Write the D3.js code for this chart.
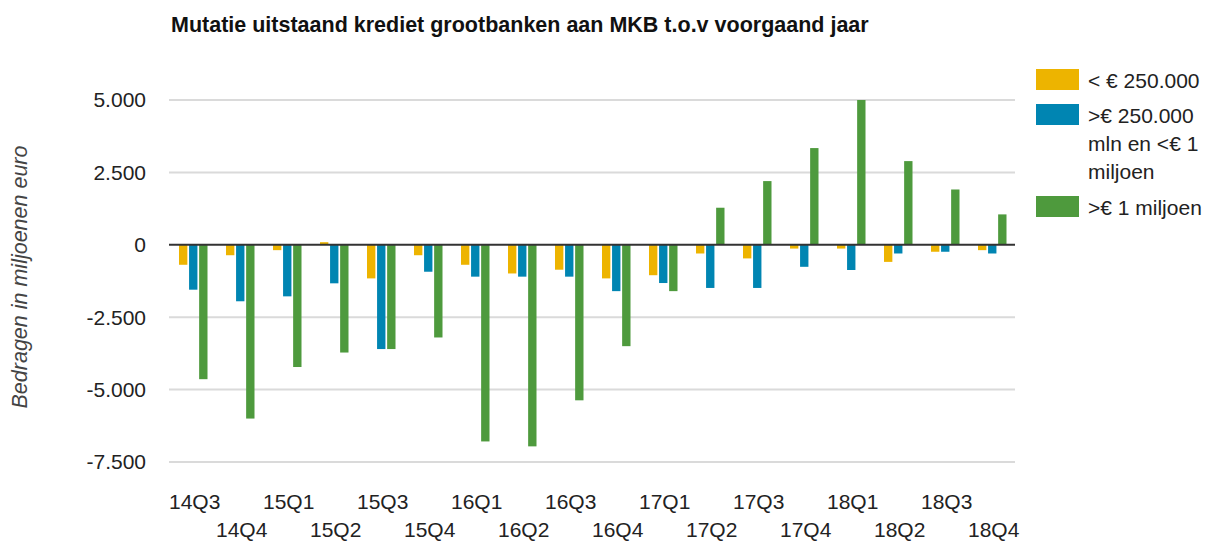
<!DOCTYPE html>
<html>
<head>
<meta charset="utf-8">
<script src="https://cdn.jsdelivr.net/npm/d3@7"></script>
<style>
  body { margin: 0; background: #fff; }
  svg { font-family: 'Liberation Sans', Arial, sans-serif; }
</style>
</head>
<body>
<div class="container"></div>
<script>
const quarters = ['14Q3', '14Q4', '15Q1', '15Q2', '15Q3', '15Q4', '16Q1', '16Q2', '16Q3',
  '16Q4', '17Q1', '17Q2', '17Q3', '17Q4', '18Q1', '18Q2', '18Q3', '18Q4'];

// mutatie in miljoenen euro
const klein = [-690, -360, -185, 90, -1160, -360, -690, -990, -860,
  -1160, -1050, -300, -470, -130, -130, -590, -240, -185];
const midden = [-1550, -1950, -1780, -1330, -3600, -930, -1100, -1100, -1100,
  -1600, -1320, -1490, -1490, -760, -870, -300, -240, -300];
const groot = [-4640, -6000, -4220, -3720, -3600, -3200, -6790, -6960, -5370,
  -3500, -1600, 1280, 2200, 3340, 5000, 2890, 1910, 1050];

const seriesKeys = ['klein', 'midden', 'groot'];
const seriesLabels = [['< € 250.000'], ['>€ 250.000', 'mln en <€ 1', 'miljoen'], ['>€ 1 miljoen']];
const colors = ['#edb400', '#0085b2', '#4e9a3d'];
const yTicks = [-7500, -5000, -2500, 0, 2500, 5000];

const W = 1209, H = 543;
const margin = { top: 100, right: 194, bottom: 81, left: 169 };

const data = quarters.map((q, i) => ({ q: q, klein: klein[i], midden: midden[i], groot: groot[i] }));

const svg = d3.select('.container')
  .append('svg')
  .attr('width', W)
  .attr('height', H);

let x = d3.scaleBand()
  .domain(quarters)
  .range([margin.left, W - margin.right])
  .paddingInner(0)
  .paddingOuter(0);

let xSub = d3.scaleBand()
  .domain(seriesKeys)
  .range([10, 38.5])
  .paddingInner(0.17)
  .paddingOuter(0);

let y = d3.scaleLinear()
  .domain([-7500, 5000])
  .range([H - margin.bottom, margin.top]);

const nl = d3.formatLocale({ decimal: ',', thousands: '.', grouping: [3], currency: ['€', ''], minus: '-' });
const fmt = nl.format(',d');

// gridlines
svg.append('g')
  .selectAll('line')
  .data(yTicks.filter(d => d !== 0))
  .enter()
  .append('line')
  .attr('x1', margin.left)
  .attr('x2', W - margin.right)
  .attr('y1', d => y(d))
  .attr('y2', d => y(d))
  .attr('stroke', '#dadada')
  .attr('stroke-width', 2);

// y labels
svg.append('g')
  .selectAll('text')
  .data(yTicks)
  .enter()
  .append('text')
  .attr('x', 146)
  .attr('y', d => y(d))
  .attr('dy', '0.35em')
  .attr('text-anchor', 'end')
  .style('font-size', '21px')
  .style('fill', '#222')
  .text(d => fmt(d));

// bars
let groups = svg.append('g')
  .selectAll('g')
  .data(data)
  .enter()
  .append('g')
  .attr('transform', d => 'translate(' + x(d.q) + ',0)');

groups.selectAll('rect')
  .data(d => seriesKeys.map((k, j) => ({ key: k, value: d[k], color: colors[j] })))
  .enter()
  .append('rect')
  .attr('x', d => xSub(d.key))
  .attr('width', xSub.bandwidth())
  .attr('y', d => y(Math.max(0, d.value)))
  .attr('height', d => Math.abs(y(d.value) - y(0)))
  .attr('fill', d => d.color);

// zero line
svg.append('line')
  .attr('x1', margin.left)
  .attr('x2', W - margin.right)
  .attr('y1', y(0))
  .attr('y2', y(0))
  .attr('stroke', '#333')
  .attr('stroke-width', 2);

// x labels, alternating rows
svg.append('g')
  .selectAll('text')
  .data(quarters)
  .enter()
  .append('text')
  .attr('x', d => x(d))
  .attr('y', (d, i) => (i % 2 === 0 ? 509 : 537))
  .style('font-size', '21px')
  .style('fill', '#222')
  .text(d => d);

// title
svg.append('text')
  .attr('x', 171)
  .attr('y', 31.5)
  .style('font-size', '21.5px')
  .style('font-weight', 'bold')
  .style('fill', '#111')
  .text('Mutatie uitstaand krediet grootbanken aan MKB t.o.v voorgaand jaar');

// y axis title
svg.append('text')
  .attr('transform', 'translate(27,' + 277 + ') rotate(-90)')
  .attr('text-anchor', 'middle')
  .style('font-size', '21.5px')
  .style('font-style', 'italic')
  .style('fill', '#444')
  .text('Bedragen in miljoenen euro');

// legend
const legendTop = [69, 104, 196];
let legend = svg.append('g').attr('id', 'legend');

seriesKeys.forEach((k, j) => {
  legend.append('rect')
    .attr('x', 1036)
    .attr('y', legendTop[j])
    .attr('width', 43)
    .attr('height', 21)
    .attr('fill', colors[j]);

  legend.append('g')
    .selectAll('text')
    .data(seriesLabels[j])
    .enter()
    .append('text')
    .attr('x', 1088)
    .attr('y', (d, n) => legendTop[j] + 18.5 + n * 28)
    .style('font-size', '21px')
    .style('fill', '#222')
    .text(d => d);
});
</script>
</body>
</html>
